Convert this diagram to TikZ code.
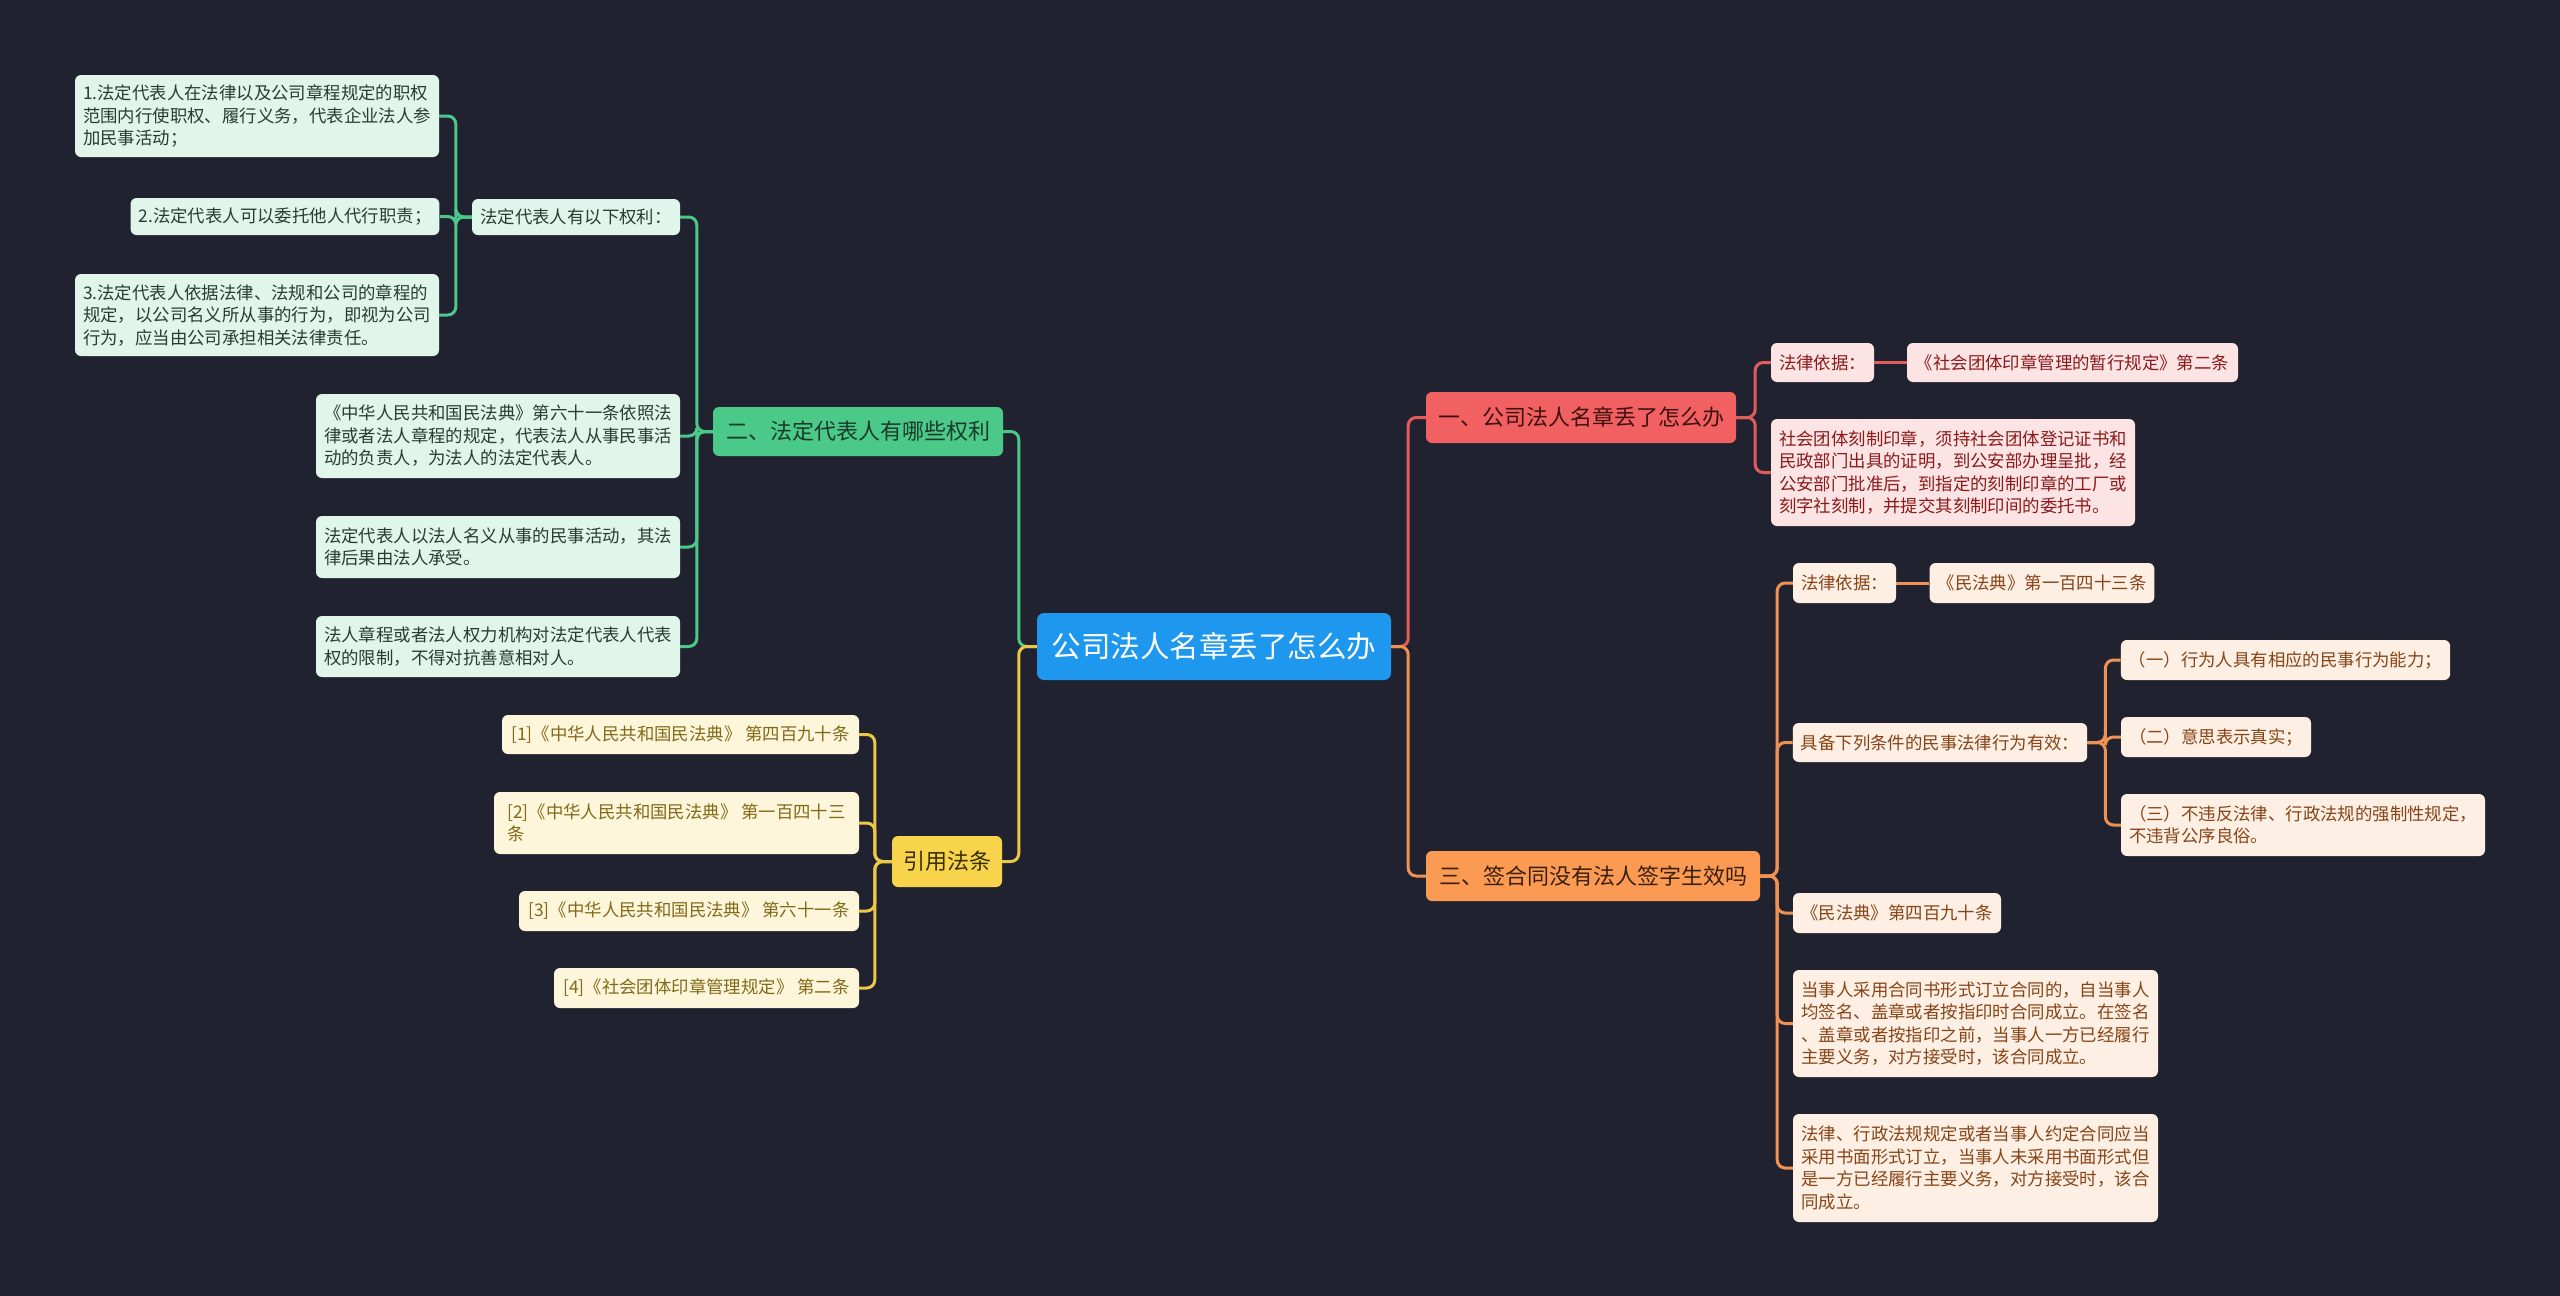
\documentclass[tikz,border=0pt]{standalone}
\usepackage{fontspec}
\setmainfont{Noto Sans CJK SC}
\definecolor{bgc}{RGB}{32,35,47}
\definecolor{centc}{RGB}{30,151,238}
\definecolor{gbr}{RGB}{74,201,137}
\definecolor{gline}{RGB}{76,201,138}
\definecolor{gleafc}{RGB}{225,246,234}
\definecolor{gtext}{RGB}{40,60,48}
\definecolor{gbrtext}{RGB}{28,58,40}
\definecolor{ybr}{RGB}{248,212,76}
\definecolor{yline}{RGB}{236,200,70}
\definecolor{yleafc}{RGB}{253,246,218}
\definecolor{ytext}{RGB}{130,105,25}
\definecolor{ybrtext}{RGB}{55,45,5}
\definecolor{rbr}{RGB}{242,97,97}
\definecolor{rline}{RGB}{226,92,92}
\definecolor{rleafc}{RGB}{253,228,228}
\definecolor{rtext}{RGB}{138,26,26}
\definecolor{rbrtext}{RGB}{64,16,16}
\definecolor{obr}{RGB}{251,154,82}
\definecolor{oline}{RGB}{240,146,84}
\definecolor{oleafc}{RGB}{253,239,227}
\definecolor{otext}{RGB}{135,68,22}
\definecolor{obrtext}{RGB}{58,32,12}
\tikzset{
  box/.style={rounded corners=6pt, inner xsep=8pt, inner ysep=4pt, align=left,
    font=\fontsize{17.4}{22.5}\selectfont},
  brbox/.style={rounded corners=6pt, inner xsep=8pt, inner ysep=4pt, align=center,
    font=\fontsize{22}{26}\selectfont},
  gleaf/.style={box, fill=gleafc, text=gtext},
  yleaf/.style={box, fill=yleafc, text=ytext},
  rleaf/.style={box, fill=rleafc, text=rtext},
  oleaf/.style={box, fill=oleafc, text=otext},
  con/.style={line width=3pt, rounded corners=8pt},
  gcon/.style={con, draw=gline},
  ycon/.style={con, draw=yline},
  rcon/.style={con, draw=rline},
  ocon/.style={con, draw=oline},
}
\begin{document}
\begin{tikzpicture}[x=1pt,y=-1pt]
\fill[bgc] (0,0) rectangle (2560,1296);
\useasboundingbox (0,0) rectangle (2560,1296);

% central
\node[rounded corners=7pt, fill=centc, text=white, minimum width=354pt, minimum height=67pt,
  font=\fontsize{29.5}{34}\selectfont] (c) at (1214,646.5) {公司法人名章丢了怎么办};

% green branch
\node[brbox, fill=gbr, text=gbrtext, minimum width=290pt, minimum height=49pt] (g) at (858,431.5) {二、法定代表人有哪些权利};
\node[gleaf, minimum width=208pt, minimum height=36pt] (g0) at (576,217) {法定代表人有以下权利：};
\node[gleaf, minimum width=364pt, minimum height=82pt] (g01) at (257,116) {1.法定代表人在法律以及公司章程规定的职权\\范围内行使职权、履行义务，代表企业法人参\\加民事活动；};
\node[gleaf, minimum width=308pt, minimum height=37pt] (g02) at (285,216.5) {2.法定代表人可以委托他人代行职责；};
\node[gleaf, minimum width=364pt, minimum height=82pt] (g03) at (257,315) {3.法定代表人依据法律、法规和公司的章程的\\规定，以公司名义所从事的行为，即视为公司\\行为，应当由公司承担相关法律责任。};
\node[gleaf, minimum width=364pt, minimum height=84pt] (g1) at (498,436) {《中华人民共和国民法典》第六十一条依照法\\律或者法人章程的规定，代表法人从事民事活\\动的负责人，为法人的法定代表人。};
\node[gleaf, minimum width=364pt, minimum height=62pt] (g2) at (498,547) {法定代表人以法人名义从事的民事活动，其法\\律后果由法人承受。};
\node[gleaf, minimum width=364pt, minimum height=61pt] (g3) at (498,646.5) {法人章程或者法人权力机构对法定代表人代表\\权的限制，不得对抗善意相对人。};

% yellow branch
\node[brbox, fill=ybr, text=ybrtext, minimum width=110pt, minimum height=51pt] (y) at (947,861.5) {引用法条};
\node[yleaf, minimum width=357pt, minimum height=39pt] (y1) at (680.5,734.5) {[1]《中华人民共和国民法典》 第四百九十条};
\node[yleaf, minimum width=365pt, minimum height=62pt] (y2) at (676.5,823) {[2]《中华人民共和国民法典》 第一百四十三\\条};
\node[yleaf, minimum width=340pt, minimum height=40pt] (y3) at (689,911) {[3]《中华人民共和国民法典》 第六十一条};
\node[yleaf, minimum width=305pt, minimum height=40pt] (y4) at (706.5,988) {[4]《社会团体印章管理规定》 第二条};

% red branch
\node[brbox, fill=rbr, text=rbrtext, minimum width=310pt, minimum height=51pt] (r) at (1581,417.5) {一、公司法人名章丢了怎么办};
\node[rleaf, minimum width=103pt, minimum height=39pt] (r1) at (1822.5,362.5) {法律依据：};
\node[rleaf, minimum width=331pt, minimum height=39pt] (r11) at (2072.5,362.5) {《社会团体印章管理的暂行规定》第二条};
\node[rleaf, minimum width=364pt, minimum height=107pt] (r2) at (1953,472.5) {社会团体刻制印章，须持社会团体登记证书和\\民政部门出具的证明，到公安部办理呈批，经\\公安部门批准后，到指定的刻制印章的工厂或\\刻字社刻制，并提交其刻制印间的委托书。};

% orange branch
\node[brbox, fill=obr, text=obrtext, minimum width=334pt, minimum height=50pt] (o) at (1593,876) {三、签合同没有法人签字生效吗};
\node[oleaf, minimum width=103pt, minimum height=40pt] (o1) at (1844.5,583) {法律依据：};
\node[oleaf, minimum width=224pt, minimum height=40pt] (o11) at (2042,583) {《民法典》第一百四十三条};
\node[oleaf, minimum width=294pt, minimum height=39pt] (o2) at (1940,742.5) {具备下列条件的民事法律行为有效：};
\node[oleaf, minimum width=329pt, minimum height=40pt] (o21) at (2285.5,660) {（一）行为人具有相应的民事行为能力；};
\node[oleaf, minimum width=190pt, minimum height=40pt] (o22) at (2216,737) {（二）意思表示真实；};
\node[oleaf, minimum width=364pt, minimum height=62pt] (o23) at (2303,825) {（三）不违反法律、行政法规的强制性规定，\\不违背公序良俗。};
\node[oleaf, minimum width=208pt, minimum height=40pt] (o3) at (1897,913) {《民法典》第四百九十条};
\node[oleaf, minimum width=365pt, minimum height=107pt] (o4) at (1975.5,1023.5) {当事人采用合同书形式订立合同的，自当事人\\均签名、盖章或者按指印时合同成立。在签名\\、盖章或者按指印之前，当事人一方已经履行\\主要义务，对方接受时，该合同成立。};
\node[oleaf, minimum width=365pt, minimum height=108pt] (o5) at (1975.5,1168) {法律、行政法规规定或者当事人约定合同应当\\采用书面形式订立，当事人未采用书面形式但\\是一方已经履行主要义务，对方接受时，该合\\同成立。};

% connectors: central to branches
\draw[gcon] (c.west) -- ++(-18,0) |- (g.east);
\draw[ycon] (c.west) -- ++(-18,0) |- (y.east);
\draw[rcon] (c.east) -- ++(17,0) |- (r.west);
\draw[ocon] (c.east) -- ++(17,0) |- (o.west);

% green
\foreach \n in {g0,g1,g2,g3} \draw[gcon] (g.west) -- ++(-16,0) |- (\n.east);
\foreach \n in {g01,g02,g03} \draw[gcon] (g0.west) -- ++(-16,0) |- (\n.east);
% yellow
\foreach \n in {y1,y2,y3,y4} \draw[ycon] (y.west) -- ++(-17,0) |- (\n.east);
% red
\foreach \n in {r1,r2} \draw[rcon] (r.east) -- ++(19,0) |- (\n.west);
\draw[rcon] (r1.east) -- (r11.west);
% orange
\foreach \n in {o1,o2,o3,o4,o5} \draw[ocon] (o.east) -- ++(17,0) |- (\n.west);
\draw[ocon] (o1.east) -- (o11.west);
\foreach \n in {o21,o22,o23} \draw[ocon] (o2.east) -- ++(18,0) |- (\n.west);
\end{tikzpicture}
\end{document}
